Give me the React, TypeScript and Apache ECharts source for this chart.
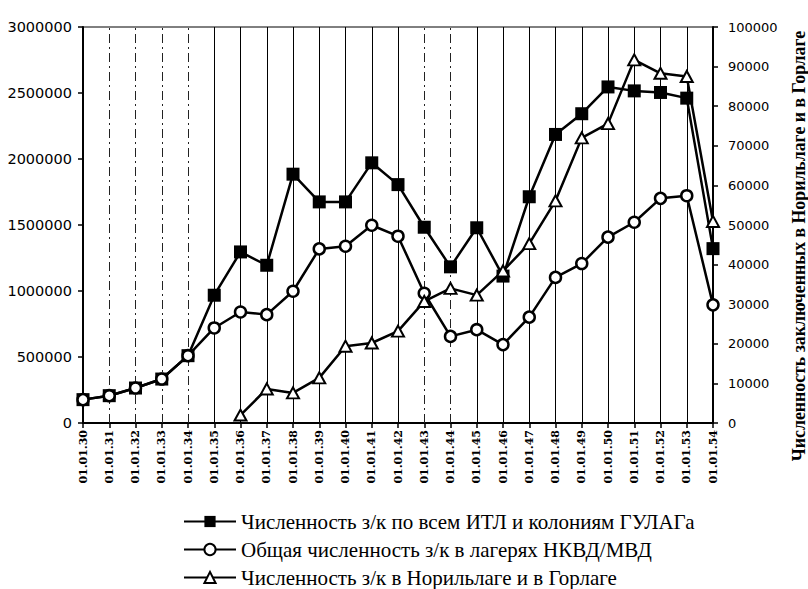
import React, { useEffect, useRef } from "react";
import * as echarts from "echarts";

const categories = [
  "01.01.30", "01.01.31", "01.01.32", "01.01.33", "01.01.34", "01.01.35", "01.01.36",
  "01.01.37", "01.01.38", "01.01.39", "01.01.40", "01.01.41", "01.01.42", "01.01.43",
  "01.01.44", "01.01.45", "01.01.46", "01.01.47", "01.01.48", "01.01.49", "01.01.50",
  "01.01.51", "01.01.52", "01.01.53", "01.01.54",
];

const gulagTotal = [
  177000, 207000, 265000, 333000, 510000, 968000, 1296000, 1195000, 1885000, 1675000,
  1675000, 1971000, 1806000, 1483000, 1183000, 1479000, 1113000, 1714000, 2186000,
  2343000, 2546000, 2516000, 2504000, 2461000, 1321000,
];

const nkvdTotal = [
  177000, 207000, 265000, 333000, 510000, 720000, 841000, 821000, 998000, 1319000,
  1339000, 1498000, 1415000, 983000, 656000, 707000, 594000, 802000, 1103000, 1208000,
  1408000, 1521000, 1702000, 1722000, 895000,
];

const norilsk = [
  null, null, null, null, null, null, 2000, 8600, 7600, 11400, 19400, 20200, 23200,
  30700, 34000, 32300, 38400, 45300, 56100, 72000, 75600, 91700, 88300, 87500, 50900,
];

const seriesNames = [
  "Численность з/к по всем ИТЛ и колониям ГУЛАГа",
  "Общая численность з/к в лагерях НКВД/МВД",
  "Численность з/к в Норильлаге и в Горлаге",
];

const rightAxisTitle = "Численность заключенных в Норильлаге и в Горлаге";

const dashedGridCats = ["01.01.31", "01.01.32", "01.01.33", "01.01.34", "01.01.43", "01.01.44"];

export default function App() {
  const ref = useRef<HTMLDivElement>(null);

  useEffect(() => {
    if (!ref.current) return;
    const chart = echarts.init(ref.current, undefined, { renderer: "svg" });

    const gridLines = categories.slice(1, categories.length - 1).map((c) => ({
      xAxis: c,
      lineStyle: dashedGridCats.includes(c)
        ? { type: [9, 4, 2, 4] as any, color: "#222", width: 1 }
        : { type: "solid" as any, color: "#000", width: 1 },
    }));

    const plain = (v: number) => String(v);

    chart.setOption({
      animation: false,
      backgroundColor: "#fff",
      grid: {
        left: 83,
        right: 95,
        top: 27,
        bottom: 166,
        show: true,
        borderColor: "#000",
        borderWidth: 1,
      },
      legend: {
        data: seriesNames,
        orient: "vertical",
        left: 183,
        top: 511,
        height: 78,
        padding: 0,
        itemWidth: 52,
        itemHeight: 14,
        itemGap: 7,
        textStyle: {
          fontFamily: "Liberation Serif",
          fontSize: 21,
          color: "#000",
          lineHeight: 21,
        },
      },
      xAxis: {
        type: "category",
        data: categories,
        boundaryGap: false,
        axisLine: { lineStyle: { color: "#000", width: 2 } },
        axisTick: { show: true, length: 5, lineStyle: { color: "#000", width: 1.5 } },
        splitLine: { show: false },
        axisLabel: {
          rotate: 90,
          interval: 0,
          margin: 7,
          fontFamily: "DejaVu Serif",
          fontWeight: "bold",
          fontSize: 11,
          color: "#000",
        },
      },
      yAxis: [
        {
          type: "value",
          min: 0,
          max: 3000000,
          interval: 500000,
          position: "left",
          axisLine: { show: true, lineStyle: { color: "#000", width: 2 } },
          axisTick: { show: true, length: 5, lineStyle: { color: "#000", width: 1.5 } },
          splitLine: { show: false },
          axisLabel: {
            margin: 11,
            fontFamily: "DejaVu Sans",
            fontSize: 14.5,
            color: "#000",
            formatter: plain,
          },
        },
        {
          type: "value",
          min: 0,
          max: 100000,
          interval: 10000,
          position: "right",
          axisLine: { show: true, lineStyle: { color: "#000", width: 2 } },
          axisTick: { show: true, length: 5, lineStyle: { color: "#000", width: 1.5 } },
          splitLine: { show: false },
          axisLabel: {
            margin: 15,
            fontFamily: "DejaVu Sans",
            fontSize: 13,
            color: "#000",
            formatter: plain,
          },
        },
      ],
      graphic: [
        {
          type: "text",
          x: 799,
          y: 246,
          rotation: Math.PI / 2,
          style: {
            text: rightAxisTitle,
            fontFamily: "Liberation Serif",
            fontWeight: "bold",
            fontSize: 17.8,
            fill: "#000",
            align: "center",
            verticalAlign: "middle",
          },
        },
      ],
      series: [
        {
          name: seriesNames[0],
          type: "line",
          data: gulagTotal,
          yAxisIndex: 0,
          symbol: "rect",
          symbolSize: 13,
          itemStyle: { color: "#000" },
          lineStyle: { color: "#000", width: 2.5 },
          z: 2,
          markLine: {
            silent: true,
            symbol: "none",
            label: { show: false },
            data: gridLines,
            z: 1,
          },
        },
        {
          name: seriesNames[1],
          type: "line",
          data: nkvdTotal,
          yAxisIndex: 0,
          symbol: "circle",
          symbolSize: 11,
          itemStyle: { color: "#fff", borderColor: "#000", borderWidth: 2.5 },
          lineStyle: { color: "#000", width: 2.5 },
          z: 3,
        },
        {
          name: seriesNames[2],
          type: "line",
          data: norilsk,
          yAxisIndex: 1,
          symbol: "triangle",
          symbolSize: [12, 11],
          itemStyle: { color: "#fff", borderColor: "#000", borderWidth: 2 },
          lineStyle: { color: "#000", width: 2.5 },
          z: 4,
        },
      ],
    });

    return () => chart.dispose();
  }, []);

  return (
    <div
      ref={ref}
      style={{ position: "fixed", left: 0, top: 0, width: 808, height: 589, background: "#fff" }}
    />
  );
}
